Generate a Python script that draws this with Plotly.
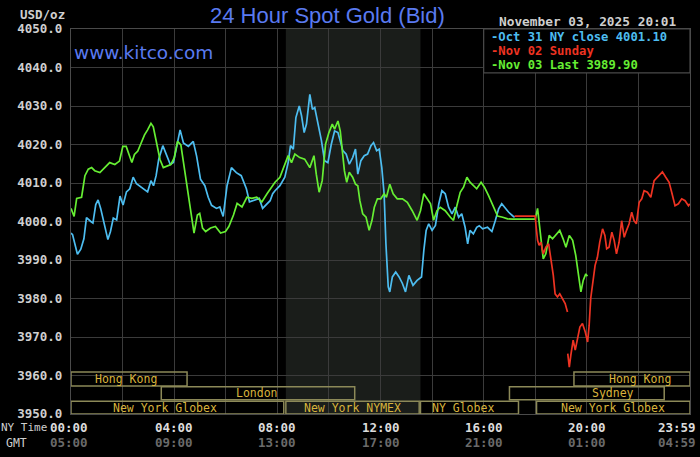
import plotly.graph_objects as go

# ---------------- data (hours NY time, USD/oz) ----------------
oct31_t = [0.0, 0.06, 0.25, 0.38, 0.5, 0.6, 0.77, 0.85, 0.96, 1.05, 1.15, 1.28, 1.43, 1.53, 1.64, 1.77, 1.9, 2.02,
           2.15, 2.28, 2.41, 2.54, 2.69, 2.85, 2.97, 3.1, 3.2, 3.3, 3.4, 3.56, 3.72, 3.85, 3.97, 4.1, 4.23, 4.36,
           4.55, 4.74, 4.87, 5.02, 5.19, 5.32, 5.45, 5.64, 5.77, 5.9, 6.05, 6.22, 6.41, 6.6, 6.8, 6.92, 7.12, 7.3,
           7.43, 7.62, 7.72, 7.82, 7.91, 8.1, 8.29, 8.42, 8.51, 8.62, 8.72, 8.85, 8.94, 9.04, 9.13, 9.26, 9.36,
           9.45, 9.58, 9.71, 9.83, 9.96, 10.09, 10.22, 10.35, 10.44, 10.54, 10.67, 10.79, 10.92, 11.03, 11.12,
           11.24, 11.37, 11.5, 11.63, 11.73, 11.85, 11.95, 12.05, 12.14, 12.21, 12.3, 12.36, 12.46, 12.59, 12.72,
           12.85, 12.97, 13.1, 13.26, 13.42, 13.59, 13.68, 13.77, 13.87, 14.0, 14.13, 14.26, 14.38, 14.51, 14.64,
           14.77, 14.9, 15.03, 15.15, 15.28, 15.38, 15.47, 15.6, 15.73, 15.83, 15.96, 16.15, 16.32, 16.45, 16.58,
           16.7, 16.84, 16.97, 17.12, 17.2]
oct31_v = [3997.0, 3996.6, 3991.5, 3992.8, 3995.5, 4001.0, 4000.0, 3999.6, 4004.4, 4005.6, 4003.4, 3999.6, 3995.3,
           3997.4, 4000.9, 4000.4, 4006.6, 4004.3, 4007.7, 4008.5, 4011.5, 4009.8, 4009.0, 4008.1, 4007.7, 4010.6,
           4009.3, 4011.9, 4016.1, 4019.7, 4017.0, 4014.8, 4015.3, 4019.5, 4023.8, 4020.4, 4019.5, 4020.8, 4017.0,
           4011.0, 4009.3, 4006.3, 4004.2, 4003.4, 4003.8, 4001.3, 4009.3, 4014.0, 4012.7, 4011.9, 4008.5, 4005.1,
           4005.5, 4006.0, 4003.4, 4004.7, 4005.4, 4007.2, 4008.0, 4009.3, 4011.5, 4015.3, 4019.7, 4018.8, 4027.0,
           4030.0, 4027.4, 4023.1, 4025.3, 4033.0, 4029.1, 4029.6, 4025.3, 4021.0, 4015.8, 4015.3, 4020.0, 4023.5,
           4023.1, 4020.5, 4018.4, 4017.5, 4014.9, 4016.6, 4018.8, 4012.3, 4015.8, 4017.1, 4017.5, 4019.7, 4020.5,
           4018.4, 4018.8, 4014.0, 4007.2, 3994.2, 3983.0, 3981.7, 3985.6, 3986.9, 3985.6, 3983.9, 3981.7, 3986.0,
           3983.4, 3984.7, 3985.6, 3992.5, 3997.7, 3999.4, 3997.7, 3999.0, 4004.6, 4008.0, 4007.2, 4003.7, 4002.0,
           4003.7, 4001.1, 4002.0, 3998.5, 3994.2, 3997.7, 3996.8, 3998.5, 3998.9, 3998.1, 3998.5, 3997.4, 4000.2,
           4003.3, 4004.6, 4003.3, 4002.4, 4001.5, 4001.1]

nov03_t = [0.0, 0.12, 0.22, 0.41, 0.54, 0.67, 0.8, 0.92, 1.12, 1.31, 1.5, 1.7, 1.88, 2.01, 2.14, 2.27, 2.36, 2.46,
           2.59, 2.72, 2.85, 2.97, 3.1, 3.19, 3.32, 3.45, 3.58, 3.74, 3.87, 4.0, 4.13, 4.26, 4.38, 4.51, 4.64, 4.77,
           4.9, 4.99, 5.1, 5.22, 5.41, 5.6, 5.8, 5.99, 6.12, 6.3, 6.44, 6.63, 6.82, 7.01, 7.2, 7.4, 7.6, 7.8, 7.91,
           8.1, 8.29, 8.42, 8.55, 8.68, 8.87, 9.06, 9.26, 9.42, 9.51, 9.62, 9.74, 9.87, 10.0, 10.13, 10.22, 10.35,
           10.44, 10.51, 10.6, 10.69, 10.79, 10.92, 11.03, 11.12, 11.2, 11.31, 11.44, 11.56, 11.67, 11.76, 11.88,
           12.01, 12.14, 12.23, 12.36, 12.49, 12.65, 12.85, 13.04, 13.23, 13.42, 13.55, 13.68, 13.81, 13.94, 14.06,
           14.19, 14.32, 14.51, 14.71, 14.83, 14.96, 15.09, 15.22, 15.35, 15.47, 15.6, 15.73, 15.9, 16.03, 16.19,
           16.32, 16.45, 16.54, 16.74, 16.93, 17.12, 18.0, 18.09, 18.15, 18.22, 18.31, 18.41, 18.54, 18.67, 18.8,
           18.95, 19.08, 19.19, 19.32, 19.45, 19.57, 19.68, 19.77, 19.86, 19.96, 20.02]
nov03_v = [4003.4, 4001.3, 4006.0, 4006.3, 4011.9, 4013.6, 4014.0, 4013.2, 4012.7, 4014.0, 4015.3, 4014.8, 4015.7,
           4019.5, 4019.5, 4017.0, 4015.3, 4017.4, 4018.3, 4020.4, 4022.5, 4023.8, 4025.5, 4024.6, 4020.4, 4016.1,
           4014.0, 4014.5, 4014.8, 4016.5, 4020.8, 4019.9, 4014.5, 4008.5, 4002.6, 3997.0, 4001.7, 4002.1, 3998.3,
           3997.4, 3998.3, 3998.7, 3997.0, 3997.4, 3998.7, 4001.7, 4004.7, 4003.8, 4006.3, 4006.0, 4006.3, 4005.1,
           4007.2, 4009.3, 4010.2, 4011.5, 4014.9, 4017.1, 4015.3, 4017.5, 4016.6, 4016.2, 4014.0, 4017.1, 4012.3,
           4007.6, 4010.6, 4020.1, 4023.1, 4025.3, 4024.0, 4026.1, 4023.5, 4018.4, 4013.2, 4010.2, 4012.8, 4011.5,
           4009.7, 4009.3, 4005.4, 4002.0, 4001.1, 3997.7, 4000.3, 4003.7, 4005.9, 4005.9, 4007.2, 4006.3, 4009.7,
           4007.2, 4005.9, 4005.9, 4005.0, 4002.8, 4000.3, 4002.8, 4007.2, 4005.9, 4004.6, 4000.3, 4002.8, 4003.7,
           4002.8, 4001.1, 4000.3, 4004.1, 4007.6, 4008.9, 4011.5, 4010.2, 4009.3, 4008.5, 4010.2, 4008.9, 4006.7,
           4004.6, 4002.4, 4001.4, 4001.1, 4000.7, 4000.6, 4000.6, 4003.4, 3999.4, 3994.6, 3990.3, 3991.6, 3996.4,
           3995.5, 3996.4, 3997.7, 3995.5, 3993.3, 3996.4, 3995.1, 3991.2, 3986.0, 3981.7, 3984.7, 3986.4, 3985.8]

nov02_t = [17.2, 18.0, 18.03, 18.09, 18.15, 18.22, 18.31, 18.41, 18.52, 18.61, 18.7, 18.77, 18.86, 18.95, 19.06,
           19.16, 19.25, 19.255, 19.26, 19.32, 19.38, 19.47, 19.55, 19.64, 19.73, 19.83, 19.94, 20.03, 20.09, 20.15,
           20.25, 20.32, 20.41, 20.5, 20.61, 20.7, 20.77, 20.86, 20.97, 21.06, 21.15, 21.25, 21.35, 21.45, 21.54,
           21.64, 21.74, 21.83, 21.92, 22.03, 22.13, 22.22, 22.35, 22.48, 22.61, 22.77, 22.93, 23.06, 23.19, 23.29,
           23.42, 23.55, 23.68, 23.81, 23.94, 23.99]
nov02_v = [4001.4, 4001.4, 3998.9, 3995.1, 3993.8, 3994.6, 3991.6, 3993.3, 3994.2, 3990.3, 3986.0, 3981.2, 3980.4,
           3981.2, 3980.0, 3978.7, 3976.5, None, 3965.7, 3962.2, 3965.3, 3969.2, 3966.6, 3969.6, 3972.6, 3973.5,
           3971.3, 3968.7, 3973.0, 3980.0, 3985.1, 3988.6, 3990.7, 3994.6, 3998.1, 3996.4, 3992.9, 3993.3, 3997.2,
           3995.1, 3991.6, 3994.6, 4000.2, 3995.9, 3997.7, 3999.4, 4002.4, 4000.2, 3999.4, 4005.0, 4005.9, 4008.0,
           4007.6, 4006.3, 4010.6, 4011.9, 4012.9, 4011.5, 4010.2, 4007.6, 4004.1, 4004.6, 4005.9, 4005.4, 4004.1,
           4004.6]

legend_labels = ["-Oct 31 NY close 4001.10", "-Nov 02 Sunday", "-Nov 03 Last 3989.90"]
stamp = "November 03, 2025 20:01"

ny_ticks = [0, 4, 8, 12, 16, 20, 24]
ny_labels = ["00:00", "04:00", "08:00", "12:00", "16:00", "20:00", "23:59"]
gmt_labels = ["05:00", "09:00", "13:00", "17:00", "21:00", "01:00", "04:59"]

nymex_hours = [8.33, 13.55]

# sessions: name, start, end, row (0 = top), label hour
sess_names = ["Hong Kong", "Hong Kong", "London", "Sydney", "New York Globex", "New York NYMEX", "NY Globex",
              "New York Globex"]
sess_start = [0.0, 19.5, 3.5, 17.0, 0.0, 8.33, 13.55, 18.05]
sess_end = [4.5, 24.0, 11.0, 23.0, 8.25, 13.5, 17.35, 24.0]
sess_row = [0, 0, 1, 1, 2, 2, 2, 2]
sess_label_at = [2.15, 22.05, 7.2, 21.0, 3.65, 10.9, 15.2, 21.0]

# ---------------- styling ----------------
BLUE = "#4dbdf0"
RED = "#ee3322"
GREEN = "#66ee33"
GRID = "#3b3b3b"
MONO = "DejaVu Sans Mono"

fig = go.Figure()
fig.add_trace(go.Scatter(x=oct31_t, y=oct31_v, mode="lines", line=dict(color=BLUE, width=1.7), showlegend=False))
fig.add_trace(go.Scatter(x=nov03_t, y=nov03_v, mode="lines", line=dict(color=GREEN, width=1.7), showlegend=False))
fig.add_trace(go.Scatter(x=nov02_t, y=nov02_v, mode="lines", line=dict(color=RED, width=1.7), showlegend=False,
                         connectgaps=False))

shapes = []
# NYMEX shading
shapes.append(dict(type="rect", xref="x", yref="paper", x0=nymex_hours[0], x1=nymex_hours[1], y0=0, y1=1,
                   fillcolor="#1a1d1a", line=dict(width=0), layer="below"))
# session boxes
row_bounds = [(3957.3, 3960.9), (3953.7, 3957.1), (3950.0, 3953.3)]
annotations = []
for name, s, e, r, lx in zip(sess_names, sess_start, sess_end, sess_row, sess_label_at):
    y0, y1 = row_bounds[r]
    shapes.append(dict(type="rect", xref="x", yref="y", x0=s, x1=e, y0=y0, y1=y1,
                       line=dict(color="#8c8958", width=1.5), fillcolor="rgba(0,0,0,0)", layer="above"))
    annotations.append(dict(x=lx, y=(y0 + y1) / 2, xref="x", yref="y", text=name, showarrow=False,
                            font=dict(family=MONO, size=11.5, color="#d9b43c"), xanchor="center", yanchor="middle"))
# legend box
shapes.append(dict(type="rect", xref="x", yref="y", x0=16.0, x1=24.0, y0=4038.6, y1=4050,
                   fillcolor="#000000", line=dict(color="#4a4a4a", width=1.2), layer="above"))
leg_colors = [BLUE, RED, GREEN]
leg_y = [4048.05, 4044.3, 4040.55]
for lab, c, yy in zip(legend_labels, leg_colors, leg_y):
    annotations.append(dict(x=16.0, y=yy, xref="x", yref="y", text=lab, showarrow=False, xanchor="left",
                            yanchor="middle", xshift=5,
                            font=dict(family=MONO, size=12.2, color=c, weight="bold")))

# date stamp
annotations.append(dict(x=20.02, y=1.0195, xref="x", yref="paper", text=stamp, showarrow=False,
                        xanchor="center", yanchor="middle",
                        font=dict(family=MONO, size=12.8, color="#cfcfcf", weight="bold")))
# title
annotations.append(dict(x=0.414, y=1.036, xref="paper", yref="paper", text="24 Hour Spot Gold (Bid)",
                        showarrow=False, xanchor="center", yanchor="middle",
                        font=dict(family="Liberation Sans", size=22, color="#5a7af0")))
# kitco
annotations.append(dict(x=0.002, y=0.938, xref="paper", yref="paper", text="www.kitco.com", showarrow=False,
                        xanchor="left", yanchor="middle",
                        font=dict(family="DejaVu Sans", size=18.5, color="#5a7af0")))
# USD/oz
annotations.append(dict(x=0, y=1.038, xref="paper", yref="paper", text="USD/oz", showarrow=False,
                        xanchor="right", yanchor="middle", xshift=-4,
                        font=dict(family=MONO, size=12.5, color="#cfcfcf", weight="bold")))
# x labels
for t, ny, gm in zip(ny_ticks, ny_labels, gmt_labels):
    anc = "center"
    shift = -2 if t == 0 else 0
    if t == 24:
        anc = "right"
        shift = 8
    annotations.append(dict(x=t, y=-0.036, xref="x", yref="paper", text=ny, showarrow=False, xanchor=anc,
                            yanchor="middle", xshift=shift,
                            font=dict(family=MONO, size=12.5, color="#dcdcdc", weight="bold")))
    annotations.append(dict(x=t, y=-0.075, xref="x", yref="paper", text=gm, showarrow=False, xanchor=anc,
                            yanchor="middle", xshift=shift,
                            font=dict(family=MONO, size=12.5, color="#6a6a6a", weight="bold")))
annotations.append(dict(x=0, y=-0.036, xref="paper", yref="paper", text="NY Time", showarrow=False,
                        xanchor="right", yanchor="middle", xshift=-22,
                        font=dict(family=MONO, size=11, color="#cfcfcf")))
annotations.append(dict(x=0, y=-0.075, xref="paper", yref="paper", text="GMT", showarrow=False,
                        xanchor="right", yanchor="middle", xshift=-42,
                        font=dict(family=MONO, size=11.5, color="#cfcfcf")))

fig.update_layout(
    width=700, height=457,
    margin=dict(l=71, r=10, t=29, b=43),
    paper_bgcolor="#000000", plot_bgcolor="#000000",
    shapes=shapes, annotations=annotations,
    xaxis=dict(range=[0, 24], tickvals=list(range(0, 25, 2)), showticklabels=False, showgrid=True,
               gridcolor=GRID, gridwidth=1.2, zeroline=False, showline=True, linecolor="#4a4a4a",
               linewidth=1.2, mirror=True, ticks=""),
    yaxis=dict(range=[3950, 4050], dtick=10, tick0=3950, tickformat=".1f", showgrid=True, gridcolor=GRID,
               gridwidth=1.2, zeroline=False, showline=True, linecolor="#4a4a4a", linewidth=1.2, mirror=True,
               ticks="", ticklabelstandoff=5,
               tickfont=dict(family=MONO, size=12.5, color="#cfcfcf", weight="bold")),
)

fig.write_html("out.html", config={"displayModeBar": False},
               post_script="document.body.style.margin='0px';document.body.style.background='#000';")
